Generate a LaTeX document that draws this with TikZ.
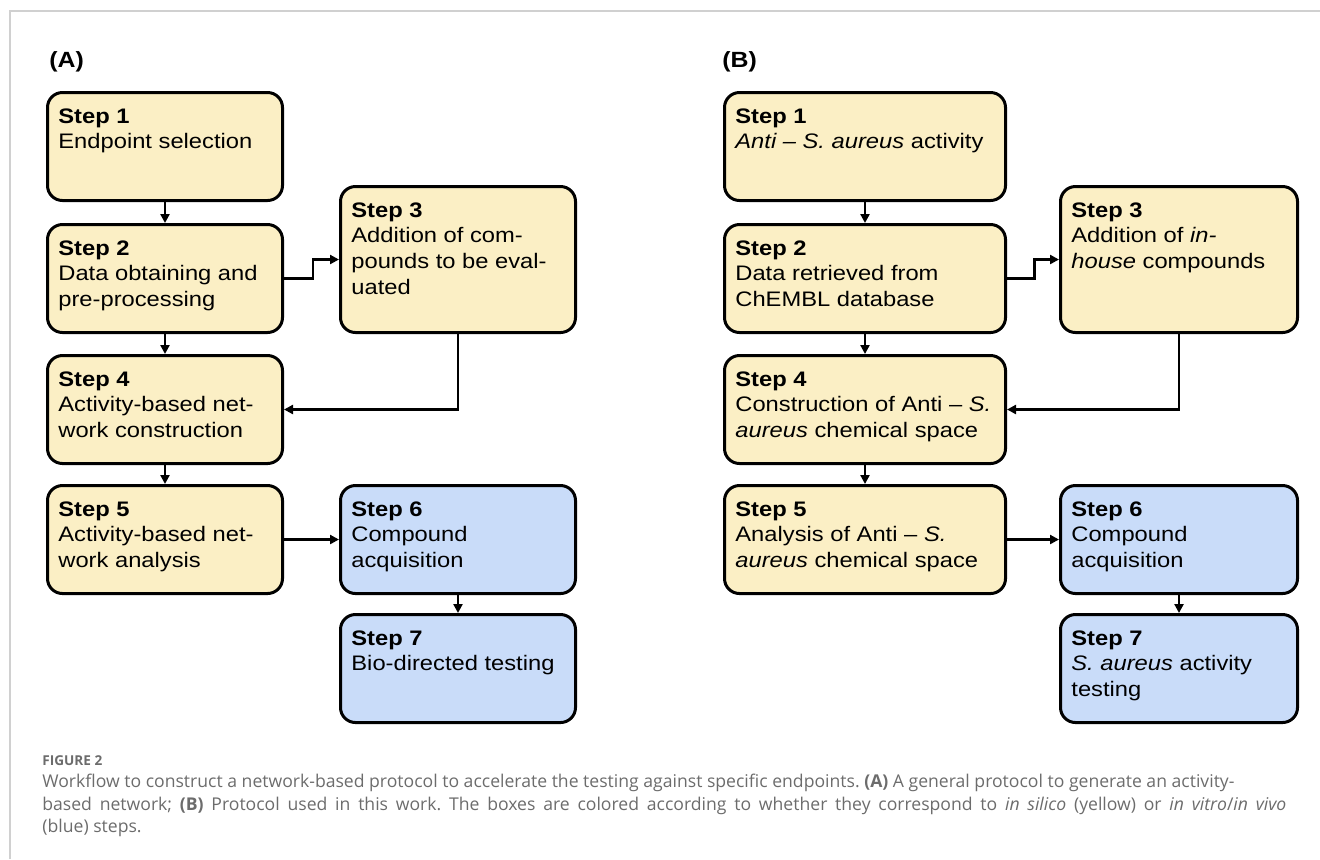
\documentclass[tikz,border=0pt]{standalone}
\usepackage{fontspec}
\setmainfont{Liberation Sans}[FakeStretch=1.13]
\newfontfamily\capfont{Open Sans}
\usepackage{tikz}
\usetikzlibrary{calc, arrows.meta, positioning}

\definecolor{insilico}{RGB}{251,239,197}
\definecolor{invitro}{RGB}{201,220,249}
\definecolor{capgray}{RGB}{108,108,108}
\definecolor{framegray}{RGB}{208,208,208}

\begin{document}
\begin{tikzpicture}[x=0.5pt, y=-0.5pt,
  stepbox/.style={draw, line width=1.5pt, rounded corners=7.5pt, anchor=north west,
    inner sep=0pt, minimum height=54pt},
  yel/.style={stepbox, fill=insilico},
  blu/.style={stepbox, fill=invitro},
  steptext/.style={inner sep=0pt, align=left, font=\fontsize{10.5}{12.85}\selectfont},
  flow/.style={line width=1.2pt, -{Triangle[length=4.5pt, width=4.5pt]}},
  panel/.style={inner sep=0pt, anchor=base west, font=\fontsize{11}{13}\selectfont\bfseries},
  captext/.style={inner sep=0pt, anchor=base west, text=capgray,
    font=\capfont\fontsize{8.8}{10}\selectfont\frenchspacing}]

  \useasboundingbox (0,0) rectangle (1320,859);
  \draw[framegray, line width=0.8pt] (10,859) -- (10,11) -- (1320,11);

  % (A) general protocol
  \node[panel] (pa) at (49,67) {(A)};
  \node[yel, minimum width=117.5pt] (a1) at (46,91) {};
  \node[yel, minimum width=117.5pt] (a2) at (46,223) {};
  \node[yel, minimum width=117.5pt, minimum height=73pt] (a3) at (339,185) {};
  \node[yel, minimum width=117.5pt] (a4) at (46,354) {};
  \node[yel, minimum width=117.5pt] (a5) at (46,484) {};
  \node[blu, minimum width=117.5pt] (a6) at (339,484) {};
  \node[blu, minimum width=117.5pt] (a7) at (339,613) {};

  \node[steptext, below right=8.5pt and 6pt of a1.north west] (a1t)
    {\textbf{Step 1}\\Endpoint selection};
  \node[steptext, below right=8.5pt and 6pt of a2.north west] (a2t)
    {\textbf{Step 2}\\Data obtaining and\\pre-processing};
  \node[steptext, below right=8.5pt and 6pt of a3.north west] (a3t)
    {\textbf{Step 3}\\Addition of com-\\pounds to be eval-\\uated};
  \node[steptext, below right=8.5pt and 6pt of a4.north west] (a4t)
    {\textbf{Step 4}\\Activity-based net-\\work construction};
  \node[steptext, below right=8.5pt and 6pt of a5.north west] (a5t)
    {\textbf{Step 5}\\Activity-based net-\\work analysis};
  \node[steptext, below right=8.5pt and 6pt of a6.north west] (a6t)
    {\textbf{Step 6}\\Compound\\acquisition};
  \node[steptext, below right=8.5pt and 6pt of a7.north west] (a7t)
    {\textbf{Step 7}\\Bio-directed testing};

  % (B) this work
  \node[panel] (pb) at (722,67) {(B)};
  \node[yel, minimum width=140.5pt] (b1) at (723,91) {};
  \node[yel, minimum width=140.5pt] (b2) at (723,223) {};
  \node[yel, minimum width=118.5pt, minimum height=73pt] (b3) at (1059,185) {};
  \node[yel, minimum width=140.5pt] (b4) at (723,354) {};
  \node[yel, minimum width=140.5pt] (b5) at (723,484) {};
  \node[blu, minimum width=118.5pt] (b6) at (1059,484) {};
  \node[blu, minimum width=118.5pt] (b7) at (1059,613) {};

  \node[steptext, below right=8.5pt and 6pt of b1.north west] (b1t)
    {\textbf{Step 1}\\\textit{Anti -- S. aureus} activity};
  \node[steptext, below right=8.5pt and 6pt of b2.north west] (b2t)
    {\textbf{Step 2}\\Data retrieved from\\ChEMBL database};
  \node[steptext, below right=8.5pt and 6pt of b3.north west] (b3t)
    {\textbf{Step 3}\\Addition of \textit{in-}\\\textit{house} compounds};
  \node[steptext, below right=8.5pt and 6pt of b4.north west] (b4t)
    {\textbf{Step 4}\\Construction of Anti -- \textit{S.}\\\textit{aureus} chemical space};
  \node[steptext, below right=8.5pt and 6pt of b5.north west] (b5t)
    {\textbf{Step 5}\\Analysis of Anti -- \textit{S.}\\\textit{aureus} chemical space};
  \node[steptext, below right=8.5pt and 6pt of b6.north west] (b6t)
    {\textbf{Step 6}\\Compound\\acquisition};
  \node[steptext, below right=8.5pt and 6pt of b7.north west] (b7t)
    {\textbf{Step 7}\\\textit{S. aureus} activity\\testing};

  % connectors
  \foreach \s/\t in {a1/a2, a2/a4, a4/a5, a5/a6, a6/a7, b1/b2, b2/b4, b4/b5, b5/b6, b6/b7}
    \draw[flow] (\s) -- (\t);
  \draw[flow] (a2.east) -- ++(29,0) |- (a3.west);
  \draw[flow] (a3.south) |- (a4.east);
  \draw[flow] (b2.east) -- ++(27.5,0) |- (b3.west);
  \draw[flow] (b3.south) |- (b4.east);

  % caption
  \node[captext, font=\capfont\fontsize{6.8}{8}\selectfont\bfseries] (fig) at (42,765) {FIGURE 2};
  \node[captext] (cap1) at (42,787) {Workflow to construct a network-based protocol to accelerate the testing against specific endpoints. \textbf{(A)} A general protocol to generate an activity-};
  \node[captext] (cap2) at (42,810) {\makebox[622pt][s]{based network; \textbf{(B)} Protocol used in this work. The boxes are colored according to whether they correspond to \textit{in silico} (yellow) or \textit{in vitro}/\textit{in vivo}}};
  \node[captext] (cap3) at (42,832) {(blue) steps.};
\end{tikzpicture}
\end{document}
